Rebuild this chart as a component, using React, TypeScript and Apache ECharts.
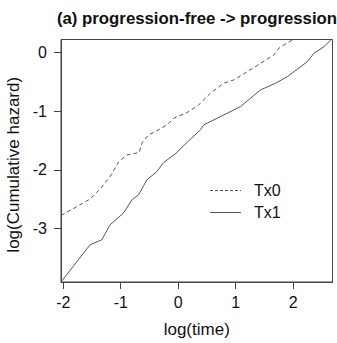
import React, { useEffect, useRef } from "react";
import * as echarts from "echarts";

const titleText = "(a) progression-free -> progression";
const xName = "log(time)";
const yName = "log(Cumulative hazard)";
const seriesNames = ["Tx0", "Tx1"];

const xTicks = [-2, -1, 0, 1, 2];
const yTicks = [-3, -2, -1, 0];

const tx0X = [-2.04, -1.534, -1.36, -1.185, -1.04, -0.894, -0.679, -0.632, -0.517, -0.4, -0.195, -0.08, 0.154, 0.356, 0.56, 0.792, 0.967, 1.201, 1.433, 1.665, 1.752, 1.839, 1.986, 2.1];
const tx0Y = [-2.777, -2.497, -2.327, -2.112, -1.867, -1.743, -1.704, -1.543, -1.402, -1.346, -1.232, -1.118, -1.022, -0.891, -0.692, -0.521, -0.465, -0.324, -0.181, -0.039, 0.075, 0.131, 0.216, 0.3];

const tx1X = [-2.04, -1.534, -1.33, -1.185, -0.953, -0.806, -0.691, -0.545, -0.37, -0.255, -0.021, 0.037, 0.386, 0.443, 0.677, 1.084, 1.433, 1.695, 1.899, 2.248, 2.363, 2.538, 2.655, 2.75];
const tx1Y = [-3.911, -3.276, -3.191, -2.935, -2.736, -2.509, -2.424, -2.169, -2.027, -1.874, -1.704, -1.64, -1.317, -1.232, -1.118, -0.92, -0.635, -0.521, -0.409, -0.153, -0.01, 0.102, 0.216, 0.3];

const FONT = "'Liberation Sans', Arial, sans-serif";

export default function App() {
  const ref = useRef<HTMLDivElement>(null);
  useEffect(() => {
    if (!ref.current) return;
    const chart = echarts.init(ref.current, null, { renderer: "svg" });
    const lineColor = "#555";
    chart.setOption({
      animation: false,
      backgroundColor: "#fff",
      title: {
        text: titleText,
        left: 192,
        textAlign: "center",
        top: 5,
        textStyle: { fontFamily: FONT, fontSize: 16.8, fontWeight: "bold", color: "#111" },
      },
      grid: {
        left: 61,
        top: 39.5,
        right: 4.5,
        bottom: 61,
        show: true,
        borderColor: "#444",
        borderWidth: 1,
        backgroundColor: "transparent",
        containLabel: false,
        outerBoundsMode: "none",
      },
      xAxis: {
        type: "value",
        min: -2.04,
        max: 2.686,
        name: xName,
        nameLocation: "middle",
        nameGap: 39,
        nameTextStyle: { fontFamily: FONT, fontSize: 17, color: "#111" },
        axisLine: { show: true, onZero: false, lineStyle: { color: "#444" } },
        axisTick: { show: true, length: 7, customValues: xTicks, lineStyle: { color: "#444" } },
        axisLabel: { customValues: xTicks, margin: 12, fontFamily: FONT, fontSize: 16, color: "#111", showMinLabel: true, showMaxLabel: true },
        splitLine: { show: false },
      },
      yAxis: {
        type: "value",
        min: -3.911,
        max: 0.225,
        name: yName,
        nameLocation: "middle",
        nameGap: 38,
        nameTextStyle: { fontFamily: FONT, fontSize: 17, color: "#111", padding: [0, 8, 0, 0] },
        axisLine: { show: true, onZero: false, lineStyle: { color: "#444" } },
        axisTick: { show: true, length: 7, customValues: yTicks, lineStyle: { color: "#444" } },
        axisLabel: { customValues: yTicks, margin: 14, fontFamily: FONT, fontSize: 16, color: "#111" },
        splitLine: { show: false },
      },
      series: [
        {
          name: seriesNames[0],
          type: "line",
          data: tx0X.map((x, i) => [x, tx0Y[i]]),
          showSymbol: false,
          symbol: "none",
          clip: true,
          lineStyle: { color: lineColor, width: 1, type: [4, 3] },
        },
        {
          name: seriesNames[1],
          type: "line",
          data: tx1X.map((x, i) => [x, tx1Y[i]]),
          showSymbol: false,
          symbol: "none",
          clip: true,
          lineStyle: { color: lineColor, width: 1 },
        },
      ],
      graphic: [
        { type: "line", shape: { x1: 210, y1: 190.5, x2: 241, y2: 190.5 }, style: { stroke: lineColor, lineWidth: 1, lineDash: [3, 2] } },
        { type: "line", shape: { x1: 210, y1: 212.5, x2: 241, y2: 212.5 }, style: { stroke: lineColor, lineWidth: 1 } },
        { type: "text", x: 254, y: 190.5, style: { text: seriesNames[0], font: `16px ${FONT}`, fill: "#111", textVerticalAlign: "middle" } },
        { type: "text", x: 254, y: 212.5, style: { text: seriesNames[1], font: `16px ${FONT}`, fill: "#111", textVerticalAlign: "middle" } },
      ],
    });
    return () => chart.dispose();
  }, []);
  return <div ref={ref} style={{ position: "absolute", left: 0, top: 0, width: 337, height: 343 }} />;
}
